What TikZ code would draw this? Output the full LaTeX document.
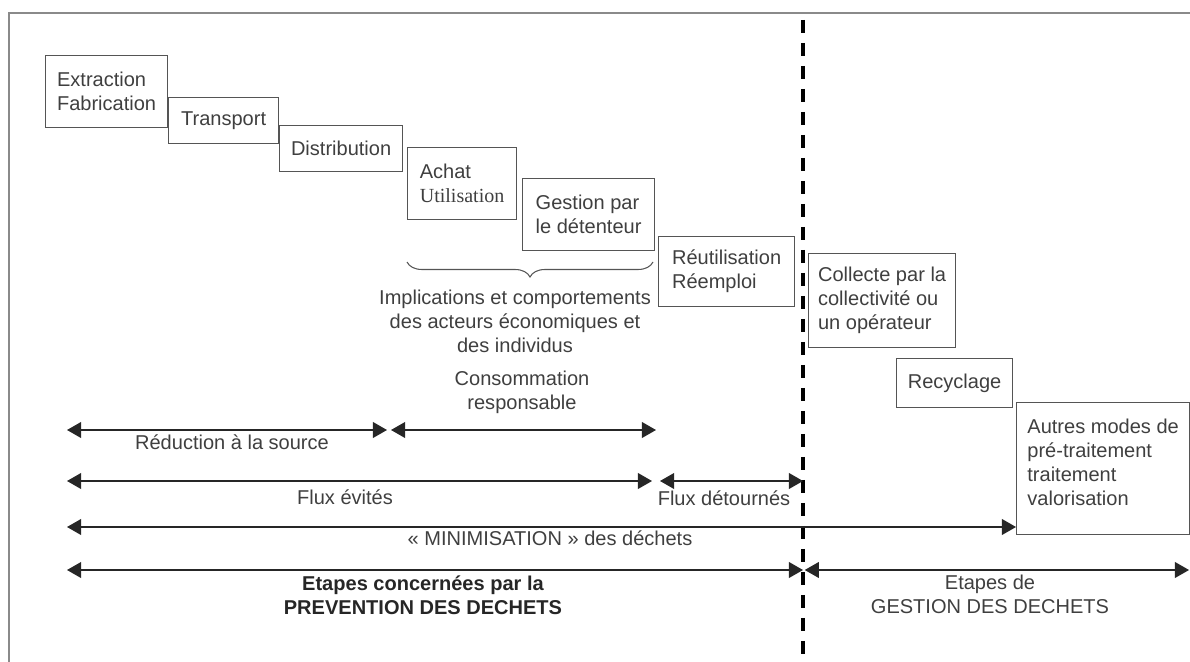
\documentclass[tikz,border=0pt]{standalone}
\usepackage{fontspec}
\setmainfont{Liberation Sans}
\newfontfamily\serifutil{Liberation Serif}
\usetikzlibrary{arrows.meta,decorations.pathreplacing}
\definecolor{boxgray}{HTML}{555555}
\definecolor{txtgray}{HTML}{3F3F3F}
\definecolor{framegray}{HTML}{8A8A8A}
\tikzset{
  etape/.style={draw=boxgray, line width=0.7pt, anchor=north west, align=left, inner sep=0pt, text=txtgray},
  fleche/.style={{Triangle[length=8pt,width=9pt]}-{Triangle[length=8pt,width=9pt]}, line width=0.6pt, draw=black!85},
  legende/.style={align=center, text=txtgray, inner sep=1pt},
}
\begin{document}
\begin{tikzpicture}[x=0.02cm, y=-0.02cm, font=\fontsize{11.4}{13.6}\selectfont]
    \useasboundingbox (0,0) rectangle (1190,662);
    \draw[framegray, line width=0.9pt] (9,662) -- (9,13) -- (1190,13);

    \node[etape, minimum width=2.44cm, minimum height=1.44cm] (extr) at (45,55) {Extraction\\Fabrication};
    \node[etape, minimum width=2.2cm, minimum height=0.92cm] (transp) at (168,97) {Transport};
    \node[etape, minimum width=2.46cm, minimum height=0.92cm] (distr) at (279,125) {Distribution};
    \node[etape, minimum width=2.18cm, minimum height=1.44cm] (achat) at (407,147) {Achat\\{\serifutil Utilisation}};
    \node[etape, minimum width=2.64cm, minimum height=1.44cm] (gestion) at (522,178) {Gestion par\\le détenteur};
    \node[etape, minimum width=2.72cm, minimum height=1.4cm] (reutil) at (658,236) {Réutilisation\\Réemploi};
    \node[etape, minimum width=2.94cm, minimum height=1.88cm] (collecte) at (808,253) {Collecte par la\\collectivité ou\\un opérateur};
    \node[etape, minimum width=2.32cm, minimum height=0.98cm] (recycl) at (896,358) {Recyclage};
    \node[etape, minimum width=3.46cm, minimum height=2.64cm] (autres) at (1016,402) {Autres modes de\\pré-traitement\\traitement\\valorisation\\[-6pt]};

    \draw[boxgray, line width=0.6pt, decorate, decoration={brace, amplitude=0.3cm}] (653,262) -- (407,262);
    \node[legende] (implic) at (515,321) {Implications et comportements\\des acteurs économiques et\\des individus};

    \coordinate (sepT) at (803,20);
    \coordinate (sepB) at (803,656);
    \draw[line width=2.3pt, dash pattern=on 0.26cm off 0.2cm] (sepT) -- (sepB);

    \coordinate (redG) at (67,430);
    \coordinate (redD) at (387,430);
    \coordinate (consG) at (391,430);
    \coordinate (consD) at (656,430);
    \coordinate (evitG) at (67,481);
    \coordinate (evitD) at (652,481);
    \coordinate (detG) at (660,481);
    \coordinate (miniG) at (67,527);
    \coordinate (prevG) at (67,570);
    \coordinate (gestD) at (1189,570);

    \draw[fleche] (redG) -- (redD);
    \draw[fleche] (consG) -- (consD);
    \draw[fleche] (evitG) -- (evitD);
    \draw[fleche] (detG) -- (sepT |- detG);
    \draw[fleche] (miniG) -- (autres.west |- miniG);
    \draw[fleche] (prevG) -- (sepT |- prevG);
    \draw[fleche] ([xshift=1]sepT |- prevG) -- (gestD);

    \node[legende] (reduc) at (232,442) {Réduction à la source};
    \node[legende] (conso) at (522,392) {Consommation\\responsable};
    \node[legende] (evites) at (345,497) {Flux évités};
    \node[legende] (detour) at (724,498) {Flux détournés};
    \node[legende] (minim) at (550,538) {« MINIMISATION » des déchets};
    \node[legende, text=black!85, font=\fontsize{11.4}{13.6}\selectfont\bfseries] (prevent) at (423,595) {Etapes concernées par la\\PREVENTION DES DECHETS};
    \node[legende] (gestdec) at (990,594) {Etapes de\\GESTION DES DECHETS};
\end{tikzpicture}
\end{document}
